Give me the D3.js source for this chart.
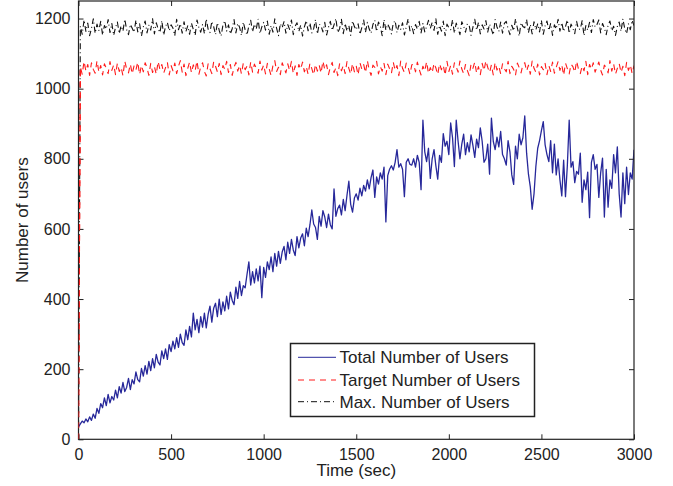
<!DOCTYPE html>
<html>
<head>
<meta charset="utf-8">
<script src="https://cdn.jsdelivr.net/npm/d3@7"></script>
<style>
  html, body { margin: 0; padding: 0; background: #fff; }
  svg { display: block; font-family: "Liberation Sans", Arial, Helvetica, sans-serif; }
</style>
</head>
<body>
<svg id="chart" width="673" height="486"></svg>
<script>
// Sampling step of every series, seconds
const timeStep = 10;

// Total number of users, one value every 10 s from t = 0 to t = 3000
const totalUsers = [
  35, 44, 52, 47, 58, 50, 64, 54, 72, 60,
  88, 74, 102, 90, 118, 96, 128, 104, 122, 112,
  140, 118, 150, 132, 162, 136, 148, 174, 142, 170,
  158, 192, 170, 164, 202, 180, 210, 186, 222, 196,
  230, 204, 242, 220, 212, 252, 230, 258, 228, 270,
  250, 280, 258, 290, 262, 300, 276, 268, 312, 284,
  322, 292, 360, 312, 342, 304, 350, 320, 360, 318,
  356, 380, 334, 374, 388, 350, 400, 356, 392, 366,
  408, 372, 420, 396, 384, 434, 402, 450, 410, 438,
  432, 470, 506, 440, 478, 446, 486, 452, 494, 404,
  490, 462, 506, 484, 520, 478, 530, 494, 536, 502,
  534, 550, 512, 562, 530, 570, 540, 524, 578, 546,
  574, 586, 552, 602, 578, 612, 654, 614, 604, 570,
  636, 608, 652, 634, 604, 642, 612, 600, 714, 636,
  658, 668, 640, 684, 652, 696, 736, 670, 648, 688,
  700, 682, 716, 694, 724, 708, 740, 714, 746, 768,
  690, 748, 728, 760, 742, 776, 620, 752, 770, 780,
  768, 790, 826, 776, 786, 770, 692, 790, 800, 784,
  782, 800, 776, 810, 790, 712, 910, 820, 792, 830,
  744, 800, 826, 780, 742, 810, 790, 872, 836, 850,
  812, 902, 860, 778, 910, 850, 800, 842, 870, 812,
  846, 820, 868, 838, 804, 856, 832, 888, 850, 790,
  800, 842, 756, 916, 850, 826, 862, 834, 878, 812,
  800, 782, 852, 820, 754, 727, 836, 800, 870, 840,
  860, 922, 816, 756, 720, 656, 700, 778, 830, 852,
  880, 906, 840, 812, 792, 852, 760, 842, 754, 800,
  740, 694, 796, 692, 780, 910, 776, 792, 732, 764,
  756, 816, 676, 740, 712, 762, 632, 790, 812, 770,
  784, 690, 760, 802, 634, 770, 662, 740, 716, 812,
  760, 834, 700, 634, 760, 672, 776, 698, 760, 742,
  826
];

// Target number of users
const targetUsers = [
  0,
  1062,1041,1078,1050,1069,1038,1074,1055,1044,1080,
  1047,1066,1039,1071,1058,1043,1077,1052,1068,1040,
  1073,1049,1061,1037,1079,1056,1045,1070,1042,1065,
  1053,1076,1040,1067,1048,1074,1059,1038,1072,1046,
  1063,1041,1078,1054,1069,1044,1060,1075,1039,1066,
  1051,1073,1043,1064,1080,1047,1070,1037,1058,1076,
  1045,1068,1052,1079,1041,1062,1074,1049,1036,1071,
  1057,1043,1077,1064,1048,1072,1040,1066,1055,1078,
  1046,1069,1038,1061,1075,1050,1067,1042,1073,1054,
  1064,1039,1076,1047,1070,1058,1044,1079,1053,1068,
  1042,1072,1056,1037,1066,1080,1049,1061,1040,1074,
  1059,1045,1071,1052,1078,1043,1065,1038,1069,1055,
  1076,1048,1063,1041,1073,1057,1039,1070,1050,1067,
  1044,1079,1054,1068,1040,1062,1075,1046,1060,1037,
  1071,1051,1066,1043,1077,1058,1041,1072,1048,1064,
  1039,1074,1056,1069,1045,1080,1053,1038,1067,1061,
  1078,1042,1063,1050,1072,1040,1070,1057,1044,1075,
  1052,1066,1037,1079,1058,1046,1073,1061,1041,1068,
  1070,1048,1076,1055,1039,1064,1050,1077,1043,1060,
  1045,1073,1059,1040,1071,1054,1067,1038,1078,1049,
  1066,1041,1074,1062,1047,1079,1056,1043,1069,1052,
  1037,1070,1058,1076,1044,1063,1040,1072,1051,1080,
  1061,1046,1068,1039,1075,1053,1065,1042,1071,1057,
  1048,1078,1043,1064,1055,1038,1073,1060,1045,1069,
  1074,1050,1067,1041,1079,1058,1047,1070,1039,1063,
  1054,1072,1040,1066,1049,1076,1044,1061,1077,1052,
  1068,1038,1073,1057,1042,1070,1063,1046,1079,1056,
  1043,1065,1051,1078,1040,1069,1055,1074,1047,1062,
  1076,1053,1039,1067,1060,1045,1080,1050,1071,1041,
  1058,1072,1046,1064,1037,1075,1052,1068,1043,1066
];

// Maximum number of users
const maxUsers = [
  0,
  1178,1155,1196,1163,1187,1151,1172,1199,1158,1184,
  1166,1192,1153,1180,1170,1197,1160,1186,1152,1175,
  1190,1157,1179,1164,1198,1168,1154,1183,1172,1161,
  1195,1162,1185,1150,1176,1193,1159,1181,1167,1200,
  1156,1188,1171,1160,1194,1153,1177,1189,1165,1182,
  1173,1151,1198,1168,1185,1158,1191,1163,1179,1155,
  1187,1169,1152,1196,1174,1161,1183,1157,1199,1170,
  1160,1192,1177,1154,1188,1166,1150,1181,1194,1164,
  1182,1156,1171,1197,1159,1186,1175,1152,1190,1168,
  1153,1179,1195,1162,1184,1170,1198,1157,1176,1189,
  1167,1193,1155,1180,1161,1199,1172,1151,1185,1174,
  1191,1158,1183,1169,1196,1154,1178,1188,1163,1181,
  1150,1176,1194,1165,1187,1159,1171,1197,1156,1184,
  1179,1162,1189,1153,1175,1192,1166,1182,1200,1160,
  1171,1198,1157,1186,1164,1180,1152,1193,1177,1168,
  1185,1155,1174,1196,1161,1189,1170,1158,1183,1195,
  1163,1190,1178,1151,1197,1167,1184,1173,1156,1187,
  1194,1160,1181,1169,1188,1153,1176,1199,1165,1179,
  1157,1183,1170,1192,1159,1186,1162,1177,1195,1172,
  1189,1166,1199,1155,1180,1164,1193,1151,1184,1174,
  1168,1196,1158,1187,1172,1154,1191,1178,1161,1185,
  1180,1152,1175,1198,1167,1189,1156,1182,1170,1194,
  1161,1184,1169,1153,1197,1176,1163,1190,1158,1186,
  1192,1171,1154,1181,1165,1199,1173,1150,1188,1177,
  1174,1197,1160,1183,1156,1191,1168,1185,1162,1195,
  1155,1179,1193,1166,1186,1152,1182,1170,1198,1164,
  1188,1163,1177,1196,1158,1184,1172,1157,1192,1169,
  1170,1194,1151,1180,1167,1189,1160,1197,1176,1183,
  1196,1159,1186,1173,1154,1181,1193,1165,1178,1152,
  1177,1190,1164,1199,1171,1157,1185,1168,1195,1180
];

const xTicks = [0, 500, 1000, 1500, 2000, 2500, 3000];
const yTicks = [0, 200, 400, 600, 800, 1000, 1200];
const legendLabels = ["Total Number of Users", "Target Number of Users", "Max. Number of Users"];

// Layout
const plot = { left: 78.5, right: 634, top: 1, bottom: 439.3 };
const svg = d3.select("#chart");

const x = d3.scaleLinear().domain([0, 3000]).range([plot.left, plot.right]);
const y = d3.scaleLinear().domain([0, 1250]).range([plot.bottom, plot.top]);

const series = [
  { values: totalUsers, color: "#27289a", width: 1.3, dash: null },
  { values: targetUsers, color: "#ff1a1a", width: 1.1, dash: "6,5" },
  { values: maxUsers, color: "#111111", width: 1.1, dash: "6,3,1,3" }
];

svg.append("defs").append("clipPath").attr("id", "plotClip")
  .append("rect")
  .attr("x", plot.left).attr("y", plot.top)
  .attr("width", plot.right - plot.left).attr("height", plot.bottom - plot.top);

const line = d3.line()
  .x((d, i) => x(i * timeStep))
  .y(d => y(d));

const lines = svg.append("g").attr("clip-path", "url(#plotClip)");
// draw the bottom layer first so the blue trace stays on top
[series[2], series[1], series[0]].forEach(s => {
  lines.append("path")
    .datum(s.values)
    .attr("fill", "none")
    .attr("stroke", s.color)
    .attr("stroke-width", s.width)
    .attr("stroke-dasharray", s.dash)
    .attr("stroke-linejoin", "round")
    .attr("d", line);
});

// Axes: inward ticks on all four sides, box frame
const tickLen = 5;
const axisColor = "#222";
const fontSize = 16;
const fmt = d3.format("d");

const xAxisBottom = d3.axisBottom(x).tickValues(xTicks).tickFormat(fmt).tickSizeInner(-tickLen).tickSizeOuter(0).tickPadding(9);
const xAxisTop = d3.axisTop(x).tickValues(xTicks).tickSizeInner(-tickLen).tickSizeOuter(0).tickFormat("");
const yAxisLeft = d3.axisLeft(y).tickValues(yTicks).tickFormat(fmt).tickSizeInner(-tickLen).tickSizeOuter(0).tickPadding(8);
const yAxisRight = d3.axisRight(y).tickValues(yTicks).tickSizeInner(-tickLen).tickSizeOuter(0).tickFormat("");

function styleAxis(g) {
  g.select(".domain").remove();
  g.selectAll(".tick line").attr("stroke", axisColor).attr("stroke-width", 1);
  g.selectAll(".tick text").attr("fill", "#222").style("font-size", fontSize + "px")
    .style("font-family", "'Liberation Sans', Arial, Helvetica, sans-serif");
}

svg.append("g").attr("transform", `translate(0,${plot.bottom})`).call(xAxisBottom).call(styleAxis);
svg.append("g").attr("transform", `translate(0,${plot.top})`).call(xAxisTop).call(styleAxis);
svg.append("g").attr("transform", `translate(${plot.left},0)`).call(yAxisLeft).call(styleAxis);
svg.append("g").attr("transform", `translate(${plot.right},0)`).call(yAxisRight).call(styleAxis);

svg.append("rect")
  .attr("x", plot.left).attr("y", plot.top)
  .attr("width", plot.right - plot.left).attr("height", plot.bottom - plot.top)
  .attr("fill", "none").attr("stroke", axisColor).attr("stroke-width", 1.2);

// Red target trace sits over the left frame near t = 0
svg.append("g").attr("clip-path", "url(#plotClip)")
  .append("path")
  .datum(targetUsers.slice(0, 2))
  .attr("fill", "none")
  .attr("stroke", series[1].color)
  .attr("stroke-width", 1.2)
  .attr("stroke-dasharray", series[1].dash)
  .attr("d", line);

// Axis titles
svg.append("text")
  .attr("x", (plot.left + plot.right) / 2).attr("y", 476)
  .attr("text-anchor", "middle").attr("fill", "#222")
  .style("font-size", "17px")
  .text("Time (sec)");

svg.append("text")
  .attr("transform", `translate(28,${(plot.top + plot.bottom) / 2}) rotate(-90)`)
  .attr("text-anchor", "middle").attr("fill", "#222")
  .style("font-size", "17px")
  .text("Number of users");

// Legend
const legend = svg.append("g");
legend.append("rect")
  .attr("x", 290.5).attr("y", 343.5).attr("width", 244).attr("height", 73)
  .attr("fill", "#fff").attr("stroke", "#222").attr("stroke-width", 1.5);

const rowY = [357.3, 380, 401.7];
legendLabels.forEach((label, i) => {
  const s = series[i];
  legend.append("line")
    .attr("x1", 298).attr("x2", 336)
    .attr("y1", rowY[i]).attr("y2", rowY[i])
    .attr("stroke", s.color).attr("stroke-width", 1)
    .attr("stroke-dasharray", s.dash);
  legend.append("text")
    .attr("x", 339.5).attr("y", rowY[i] + 6)
    .attr("fill", "#222")
    .style("font-size", "17px")
    .text(label);
});
</script>
</body>
</html>
